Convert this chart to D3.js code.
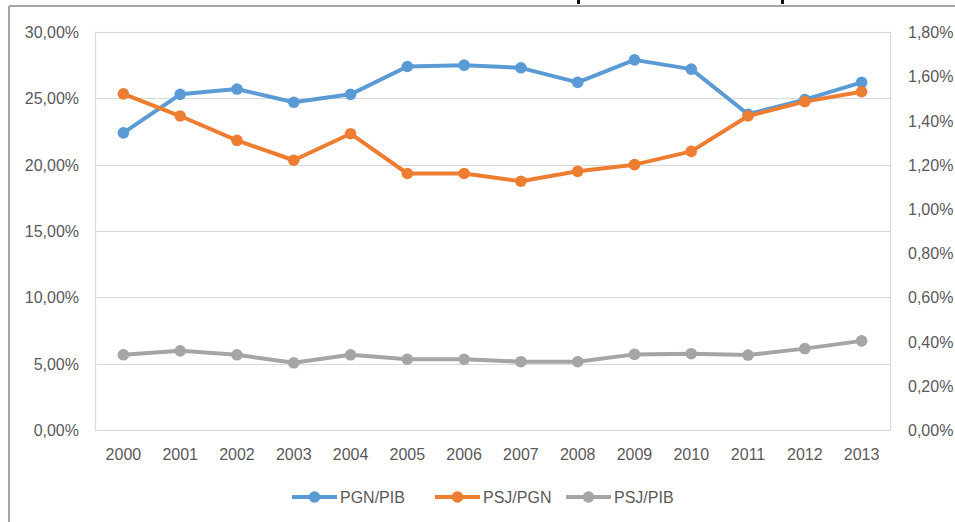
<!DOCTYPE html>
<html>
<head>
<meta charset="utf-8">
<script src="https://cdn.jsdelivr.net/npm/d3@7"></script>
<style>
  body { margin: 0; background: #fff; }
  svg { display: block; }
  text { font-family: "Liberation Sans", Arial, sans-serif; fill: #595959; }
</style>
</head>
<body>
<svg id="chart"></svg>
<script>
var years = ['2000','2001','2002','2003','2004','2005','2006','2007','2008','2009','2010','2011','2012','2013'];
// PGN/PIB on the left axis (%)
var pgnPib = [22.4, 25.3, 25.7, 24.7, 25.3, 27.4, 27.5, 27.3, 26.2, 27.9, 27.2, 23.8, 24.9, 26.2];
// PSJ/PGN and PSJ/PIB on the right axis (%)
var psjPgn = [1.52, 1.42, 1.31, 1.22, 1.34, 1.16, 1.16, 1.125, 1.17, 1.20, 1.26, 1.42, 1.485, 1.53];
var psjPib = [0.34, 0.358, 0.34, 0.304, 0.34, 0.32, 0.32, 0.309, 0.309, 0.342, 0.345, 0.339, 0.368, 0.403];
var leftTicks = [0, 5, 10, 15, 20, 25, 30];
var rightTicks = [0, 0.2, 0.4, 0.6, 0.8, 1.0, 1.2, 1.4, 1.6, 1.8];

var W = 955, H = 522;
var m = {left: 95, right: 890, top: 32, bottom: 430};

var svg = d3.select('#chart').attr('width', W).attr('height', H);

// outer chart frame (cut off by the screenshot)
svg.append('line').attr('x1', 9).attr('x2', W).attr('y1', 6).attr('y2', 6)
    .attr('stroke', '#a6a6a6').attr('stroke-width', 2);
svg.append('line').attr('x1', 9).attr('x2', 9).attr('y1', 6).attr('y2', H)
    .attr('stroke', '#a6a6a6').attr('stroke-width', 2);
// bits of the clipped title
svg.selectAll('rect.tt').data([577, 781]).enter().append('rect')
    .attr('class', 'tt').attr('x', function(d) { return d; }).attr('y', 0)
    .attr('width', 3).attr('height', 4).attr('fill', '#111');

var x = d3.scaleBand().domain(years).range([m.left, m.right]);
var yL = d3.scaleLinear().domain([0, 30]).range([m.bottom, m.top]);
var yR = d3.scaleLinear().domain([0, 1.8]).range([m.bottom, m.top]);

function fmt(d, dec) { return d.toFixed(dec).replace('.', ',') + '%'; }

// gridlines
svg.append('g').selectAll('line').data(leftTicks).enter().append('line')
    .attr('x1', m.left).attr('x2', m.right)
    .attr('y1', function(d) { return Math.round(yL(d)) + 0.5; })
    .attr('y2', function(d) { return Math.round(yL(d)) + 0.5; })
    .attr('stroke', '#d9d9d9').attr('stroke-width', 1);

svg.append('rect').attr('x', m.left + 0.5).attr('y', m.top + 0.5)
    .attr('width', m.right - m.left).attr('height', m.bottom - m.top)
    .attr('fill', 'none').attr('stroke', '#d9d9d9').attr('stroke-width', 1.2);

// left axis
var axL = svg.append('g').attr('transform', 'translate(' + (m.left - 16) + ',0)')
    .call(d3.axisLeft(yL).tickValues(leftTicks).tickSize(0).tickFormat(function(d) { return fmt(d, 2); }));
axL.select('.domain').remove();
axL.selectAll('text').attr('x', 0).attr('dy', '0.35em').style('font-size', '16px').attr('fill', '#595959');

// right axis
var axR = svg.append('g').attr('transform', 'translate(' + (m.right + 18) + ',0)')
    .call(d3.axisRight(yR).tickValues(rightTicks).tickSize(0).tickFormat(function(d) { return fmt(d, 2); }));
axR.select('.domain').remove();
axR.selectAll('text').attr('x', 0).attr('dy', '0.35em').style('font-size', '16px').attr('fill', '#595959');

// bottom axis
var axB = svg.append('g').attr('transform', 'translate(0,' + m.bottom + ')')
    .call(d3.axisBottom(x).tickSize(0));
axB.select('.domain').remove();
axB.selectAll('text').attr('y', 24).attr('dy', '0.35em').style('font-size', '16px').attr('fill', '#595959');

var series = [
  {name: 'PGN/PIB', values: pgnPib, y: yL, color: '#5b9bd5'},
  {name: 'PSJ/PGN', values: psjPgn, y: yR, color: '#ed7d31'},
  {name: 'PSJ/PIB', values: psjPib, y: yR, color: '#a5a5a5'}
];

var cx = function(i) { return x(years[i]) + x.bandwidth() / 2; };

series.forEach(function(s) {
  var line = d3.line()
      .x(function(d, i) { return cx(i); })
      .y(function(d) { return s.y(d); });
  svg.append('path').datum(s.values)
      .attr('d', line).attr('fill', 'none')
      .attr('stroke', s.color).attr('stroke-width', 4).attr('stroke-linejoin', 'round');
  svg.append('g').selectAll('circle').data(s.values).enter().append('circle')
      .attr('cx', function(d, i) { return cx(i); })
      .attr('cy', function(d) { return s.y(d); })
      .attr('r', 5.8).attr('fill', s.color);
});

// legend
var legX = [292, 435, 566];
var leg = svg.append('g').selectAll('g').data(series).enter().append('g')
    .attr('transform', function(d, i) { return 'translate(' + legX[i] + ',497)'; });
leg.append('line').attr('x1', 0).attr('x2', 45).attr('y1', 0).attr('y2', 0)
    .attr('stroke', function(d) { return d.color; }).attr('stroke-width', 4);
leg.append('circle').attr('cx', 22.5).attr('cy', 0).attr('r', 5.8)
    .attr('fill', function(d) { return d.color; });
leg.append('text').attr('x', 48).attr('dy', '0.35em').style('font-size', '16px')
    .text(function(d) { return d.name; });
</script>
</body>
</html>
